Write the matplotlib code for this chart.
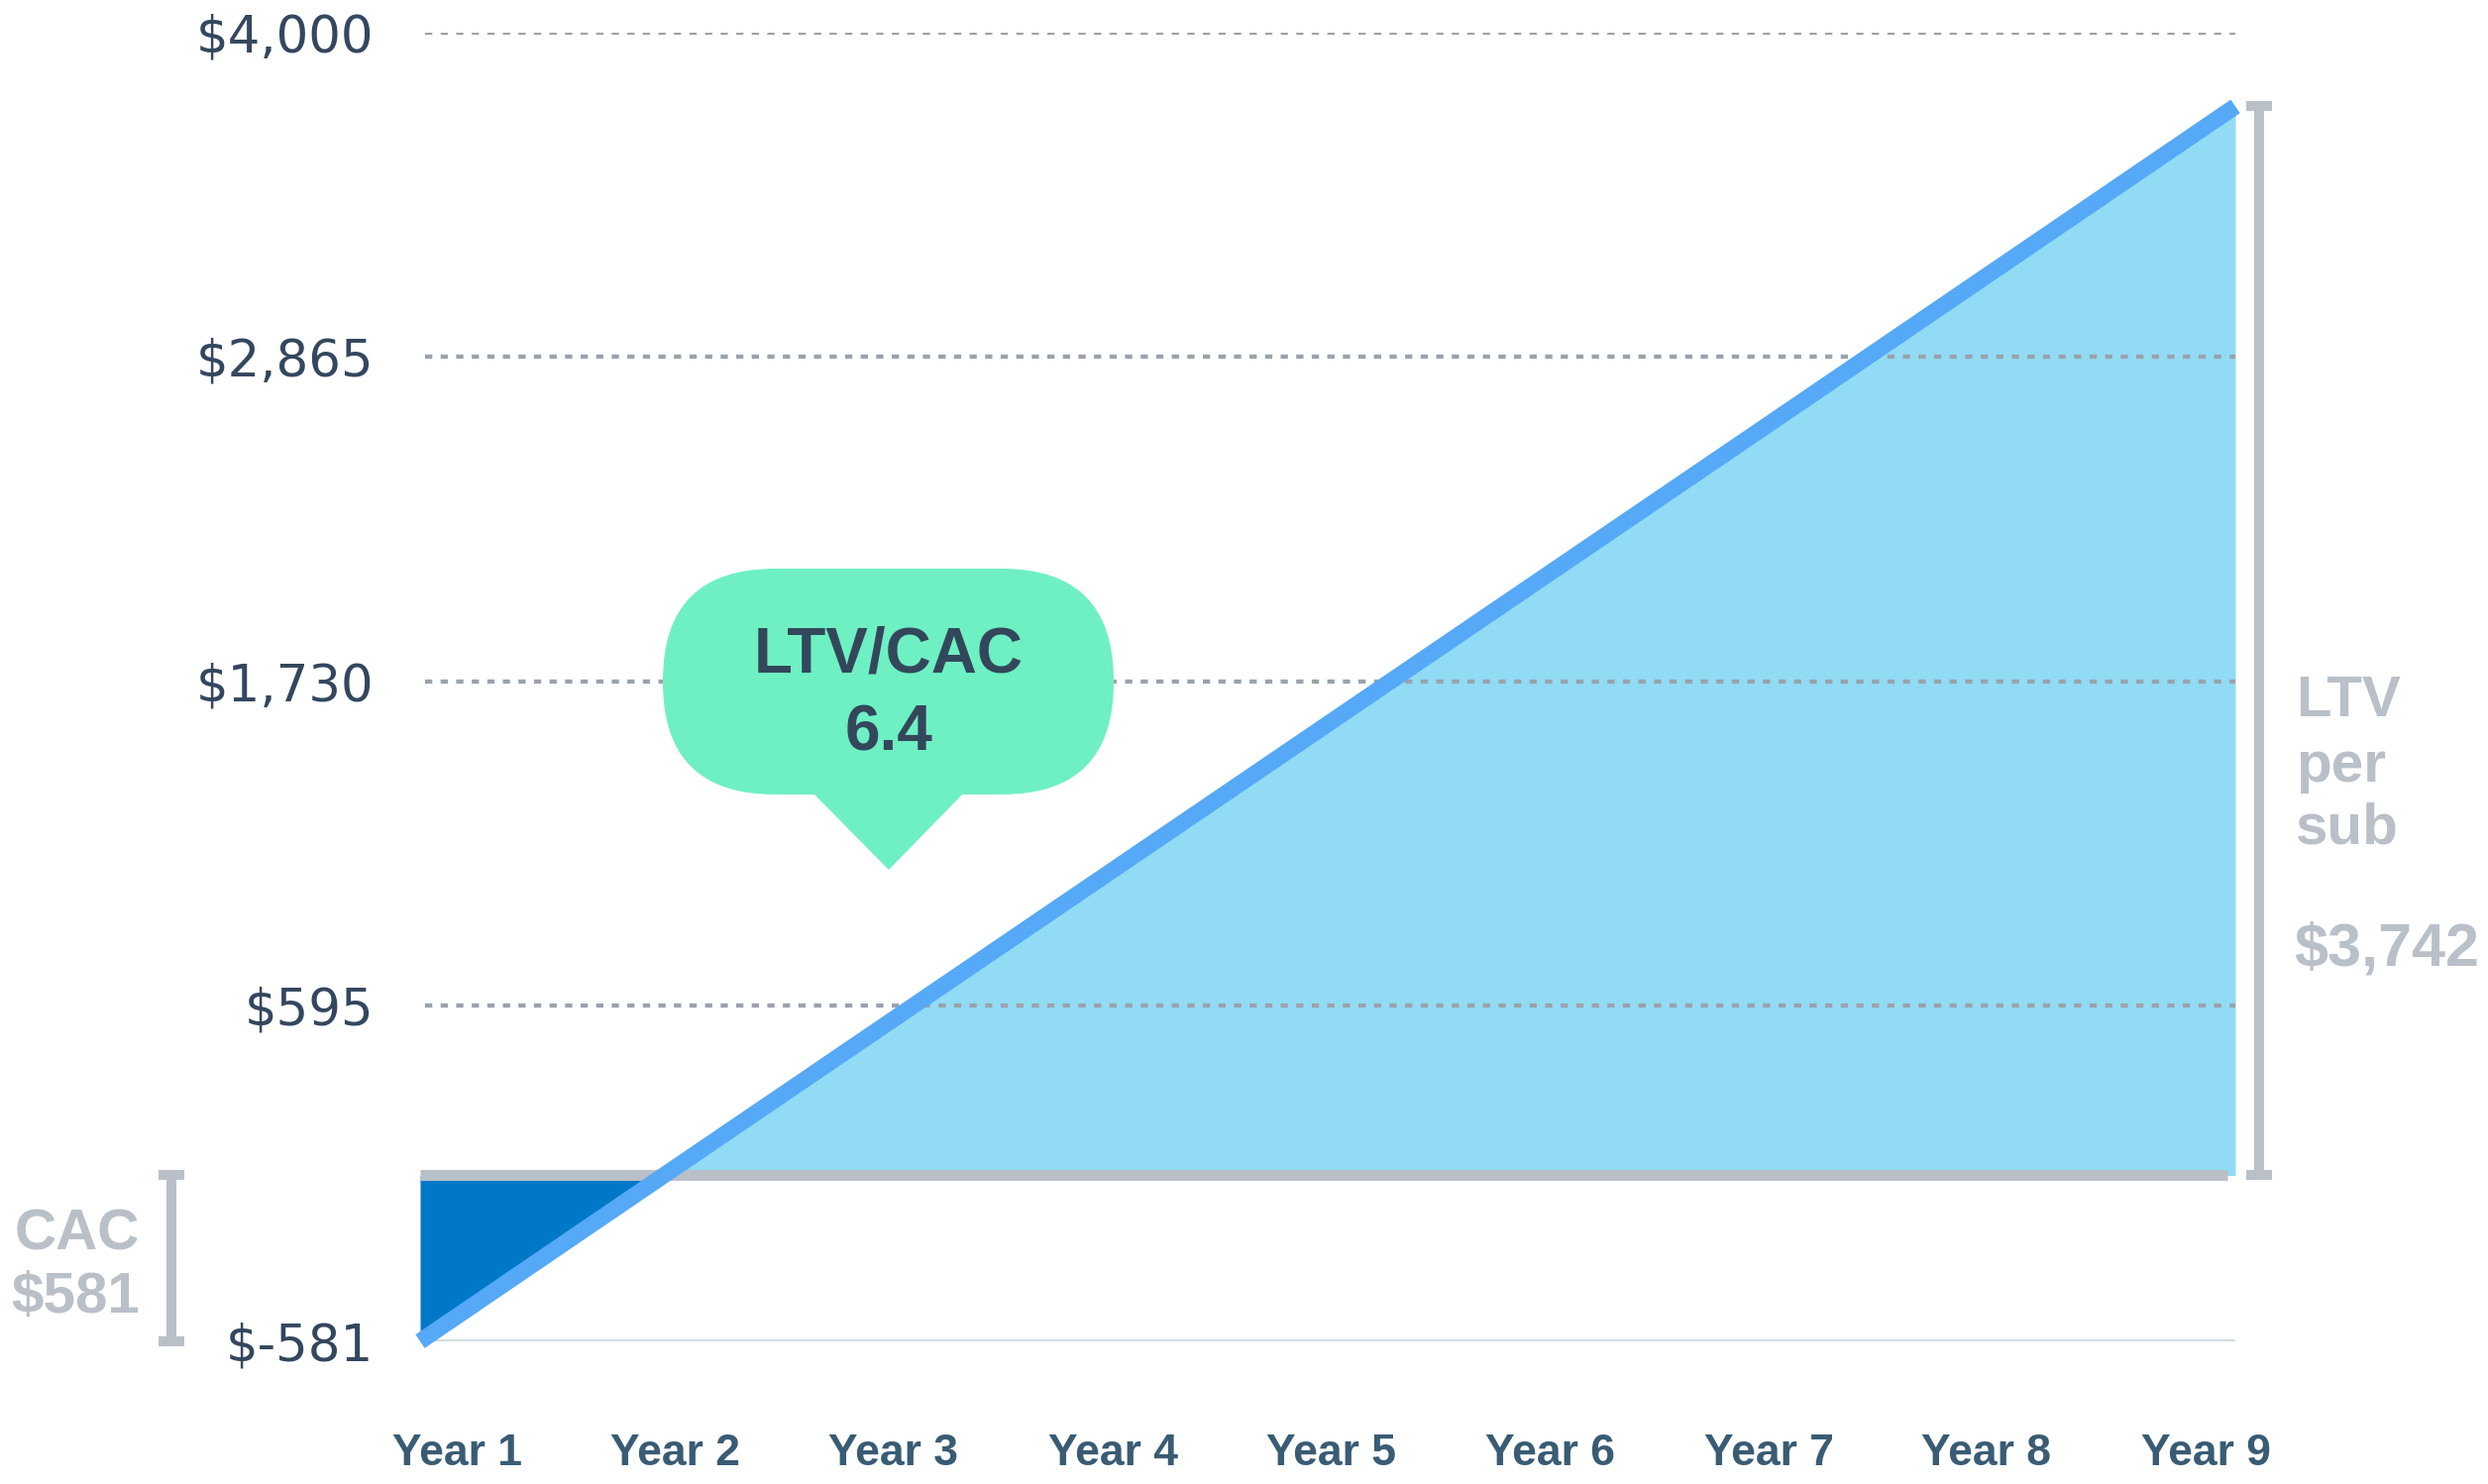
import numpy as np
import matplotlib
matplotlib.use("Agg")
import matplotlib.pyplot as plt
from matplotlib import transforms
from matplotlib.patches import FancyBboxPatch, Polygon

plt.rcParams['lines.scale_dashes'] = False

# ---------------- data ----------------
years = ["Year 1", "Year 2", "Year 3", "Year 4", "Year 5", "Year 6", "Year 7", "Year 8", "Year 9"]
cumulative_value = [-581, -40, 500, 1040, 1580, 2120, 2660, 3201, 3742]
y_ticks = [-581, 595, 1730, 2865, 4000]
y_tick_labels = ["$-581", "$595", "$1,730", "$2,865", "$4,000"]
grid_values = [595, 1730, 2865, 4000]
cac = 581
ltv = 3742
ltv_cac_ratio = 6.4

# ---------------- colors ----------------
C_LINE = "#55a9f7"
C_DARK = "#0078c8"
C_LIGHT = "#91dcf4"
C_GRAY = "#b9c0c8"
C_BASE = "#d3dde3"
C_GRID = "#9aa2ab"
C_YTXT = "#33475e"
C_XTXT = "#395c74"
C_BUBBLE = "#6ef0c3"
C_BTXT = "#33475b"

W, H = 2511, 1498
fig = plt.figure(figsize=(W / 100, H / 100), dpi=100)
PX = 72 / 100  # points per pixel

x0_px, x1_px = 424, 2256
ytop_px, ybot_px = 33, 1354
ax = fig.add_axes([x0_px / W, 1 - ybot_px / H, (x1_px - x0_px) / W, (ybot_px - ytop_px) / H])
ax.set_xlim(0, 8)
ax.set_ylim(-581, 4000)
for s in ax.spines.values():
    s.set_visible(False)

x = np.arange(len(years))
y = np.array(cumulative_value, dtype=float)

# fills
ax.fill_between(x, y, 0, where=y <= 0, interpolate=True, color=C_DARK, lw=0, zorder=2)
ax.fill_between(x, y, 0, where=y >= 0, interpolate=True, color=C_LIGHT, lw=0, zorder=2)

# baseline and gridlines
ax.hlines(-581, 0, 8, color=C_BASE, lw=4 * PX, zorder=1)
gl = ax.hlines(grid_values, 0.02, 8.01, color=C_GRID, lw=4.3 * PX, zorder=3)
gl.set_linestyle((0, (7.3 * PX, 8.4 * PX)))

# zero line
ax.plot([0, 7.965], [0, 0], color=C_GRAY, lw=11 * PX, solid_capstyle="butt", zorder=4)

# value line
ax.plot(x, y, color=C_LINE, lw=16.5 * PX, solid_capstyle="butt", solid_joinstyle="miter",
        clip_on=False, zorder=5)

# ticks
ax.set_yticks(y_ticks)
ax.set_yticklabels(y_tick_labels, fontsize=37, color=C_YTXT, family="DejaVu Sans")
label_pos = [(p - x0_px) / ((x1_px - x0_px) / 8) for p in [461, 681, 902, 1123, 1344, 1565, 1786, 2005, 2226]]
ax.set_xticks(label_pos)
ax.set_xticklabels(years, fontsize=32, color=C_XTXT, family="Liberation Sans", fontweight="bold")
ax.tick_params(axis="y", length=0, pad=(x0_px - 377) * PX)
ax.tick_params(axis="x", length=0, pad=(1447 - ybot_px) * PX)

# brackets
bt = transforms.blended_transform_factory(ax.transAxes, ax.transData)
axw = x1_px - x0_px
def bracket(xpx, ylo, yhi):
    xc = (xpx - x0_px) / axw
    hw = 13 / axw
    ax.plot([xc, xc], [ylo, yhi], color=C_GRAY, lw=10 * PX, solid_capstyle="butt",
            transform=bt, clip_on=False, zorder=4)
    for yy in (ylo, yhi):
        ax.plot([xc - hw, xc + hw], [yy, yy], color=C_GRAY, lw=10 * PX, solid_capstyle="butt",
                transform=bt, clip_on=False, zorder=4)

bracket(173, -cac, 0)
bracket(2280, 0, ltv)

def ftext(xpx, ypx, s, **kw):
    fig.text(xpx / W, 1 - ypx / H, s, **kw)

# CAC label
ftext(141, 1262, "CAC", ha="right", va="baseline", fontsize=42, fontweight="bold",
      color=C_GRAY, family="Liberation Sans")
ftext(141, 1325, f"${cac}", ha="right", va="baseline", fontsize=42, fontweight="bold",
      color=C_GRAY, family="Liberation Sans")

# LTV label
for s, yb in (("LTV", 723), ("per", 789), ("sub", 851)):
    ftext(2317, yb, s, ha="left", va="baseline", fontsize=42, fontweight="bold",
          color=C_GRAY, family="Liberation Sans")
ftext(2315, 975, f"${ltv:,}", ha="left", va="baseline", fontsize=44, fontweight="bold",
      color=C_GRAY, family="Liberation Sans")

# bubble
idt = transforms.IdentityTransform()
body = FancyBboxPatch((669, H - 802), 455, 228, boxstyle="round,pad=0,rounding_size=113",
                      transform=idt, facecolor=C_BUBBLE, edgecolor="none", zorder=6)
tail = Polygon([(820, H - 800), (973, H - 800), (897, H - 878)], closed=True,
               transform=idt, facecolor=C_BUBBLE, edgecolor="none", zorder=6)
fig.add_artist(body)
fig.add_artist(tail)
ftext(897, 678, "LTV/CAC", ha="center", va="baseline", fontsize=46, fontweight="bold",
      color=C_BTXT, family="Liberation Sans", zorder=7)
ftext(897, 758, f"{ltv_cac_ratio}", ha="center", va="baseline", fontsize=46, fontweight="bold",
      color=C_BTXT, family="Liberation Sans", zorder=7)

fig.savefig("out.png", dpi=100, facecolor="white")
